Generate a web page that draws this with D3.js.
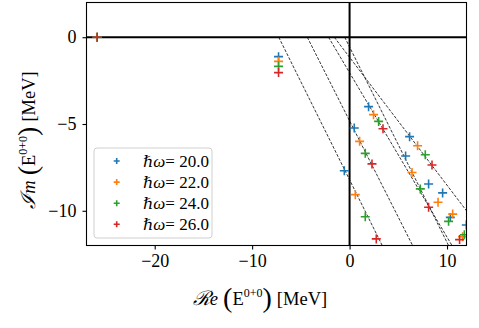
<!DOCTYPE html>
<html>
<head>
<meta charset="utf-8">
<script src="https://cdn.jsdelivr.net/npm/d3@7"></script>
<style>
body{margin:0;background:#fff}
text{font-family:"Liberation Serif","DejaVu Serif",serif;fill:#000}
</style>
</head>
<body>
<script>
// series labels and colours
var hw = ["20.0", "22.0", "24.0", "26.0"];
var colors = ["#1f77b4", "#ff7f0e", "#2ca02c", "#d62728"];

// eigenvalues (Re, Im) in MeV
var re20 = [-25.9, -7.29, -0.54, 0.48, 1.95, 5.75, 6.16, 8.11, 9.55, 10.34, 11.98];
var im20 = [0, -1.12, -7.69, -5.23, -4.0, -6.84, -5.73, -8.46, -8.97, -10.38, -10.82];
var re22 = [-25.9, -7.29, 0.59, 1.03, 2.46, 6.41, 6.98, 9.08, 10.58, 11.6];
var im22 = [0, -1.39, -9.07, -6.0, -4.46, -7.79, -6.25, -9.51, -10.19, -11.5];
var re24 = [-25.9, -7.29, 1.61, 1.61, 2.98, 7.26, 7.77, 10.16, 11.78];
var im24 = [0, -1.68, -10.34, -6.69, -4.85, -8.74, -6.77, -10.61, -11.38];
var re26 = [-25.9, -7.29, 2.74, 2.3, 3.43, 8.11, 8.46, 11.29];
var im26 = [0, -2.04, -11.62, -7.3, -5.27, -9.8, -7.36, -11.66];

// rotated continuum lines: start on the real axis, end point
var lineStart = [-7.27, -4.34, -2.16, -1.57, -0.5];
var lineEndRe = [3.35, 6.47, 10.51, 12.0, 10.16];
var lineEndIm = [-12, -12, -12, -10.0, -12];

var xTicks = [-20, -10, 0, 10];
var yTicks = [0, -5, -10];

var W = 479, H = 328;
var margin = {top: 2.5, right: 12.5, bottom: 82.5, left: 86.5};
var width = W - margin.left - margin.right,
	height = H - margin.top - margin.bottom;

var svg = d3.select("body").append("svg")
	.attr("width", W)
	.attr("height", H);

var x = d3.scaleLinear().domain([-27, 12]).range([0, width]);
var y = d3.scaleLinear().domain([-12, 2]).range([height, 0]);

var g = svg.append("g")
	.attr("transform", "translate(" + margin.left + "," + margin.top + ")");

g.append("clipPath").attr("id", "clip")
	.append("rect").attr("width", width).attr("height", height);

var plot = g.append("g").attr("clip-path", "url(#clip)");

// thick zero lines
plot.append("line")
	.attr("x1", 0).attr("x2", width)
	.attr("y1", y(0)).attr("y2", y(0))
	.attr("stroke", "#000").attr("stroke-width", 2);
plot.append("line")
	.attr("x1", x(0)).attr("x2", x(0))
	.attr("y1", 0).attr("y2", height)
	.attr("stroke", "#000").attr("stroke-width", 2);

// dashed lines
lineStart.forEach(function(s, i) {
	plot.append("line")
		.attr("x1", x(s)).attr("y1", y(0))
		.attr("x2", x(lineEndRe[i])).attr("y2", y(lineEndIm[i]))
		.attr("stroke", "#000")
		.attr("stroke-width", 0.8)
		.attr("stroke-dasharray", "3,1.5");
});

var series = [[re20, im20], [re22, im22], [re24, im24], [re26, im26]];

function plus(sel, size) {
	var h = size / 2;
	return sel.attr("d", "M" + (-h) + ",0H" + h + "M0," + (-h) + "V" + h);
}

series.forEach(function(s, k) {
	var pts = s[0].map(function(r, i) { return [r, s[1][i]]; });
	plot.selectAll(".p" + k)
		.data(pts)
		.enter()
		.append("path")
		.attr("class", "p" + k)
		.attr("transform", d => "translate(" + x(d[0]) + "," + y(d[1]) + ")")
		.attr("fill", "none")
		.attr("stroke", colors[k])
		.attr("stroke-width", 1.6)
		.call(plus, 9);
});

// frame
g.append("rect")
	.attr("width", width).attr("height", height)
	.attr("fill", "none").attr("stroke", "#000").attr("stroke-width", 1.1);

// axes
var xAxis = g.append("g")
	.attr("transform", "translate(0," + height + ")")
	.call(d3.axisBottom(x).tickValues(xTicks).tickSize(4).tickPadding(5)
		.tickFormat(d => d < 0 ? "\u2212" + Math.abs(d) : d));
var yAxis = g.append("g")
	.call(d3.axisLeft(y).tickValues(yTicks).tickSize(4).tickPadding(6)
		.tickFormat(d => d < 0 ? "\u2212" + Math.abs(d) : d));

[xAxis, yAxis].forEach(function(a) {
	a.select(".domain").remove();
	a.selectAll(".tick line").attr("stroke", "#000").attr("stroke-width", 1.1);
	a.selectAll(".tick text")
		.style("font-family", "Liberation Serif")
		.style("font-size", "18px")
		.attr("fill", "#000");
});

// axis labels
function mathLabel(t, letter, rest) {
	t.append("tspan").attr("font-size", "20px").attr("font-style", "italic").text(letter);
	t.append("tspan").attr("font-style", "italic").text(rest);
	t.append("tspan").attr("dx", 5).attr("font-size", "28px").attr("dy", 2).text("(");
	t.append("tspan").attr("dy", -2).text("E");
	t.append("tspan").attr("font-size", "12px").attr("dy", -8).text("0+0");
	t.append("tspan").attr("font-size", "28px").attr("dy", 10).text(")");
	t.append("tspan").attr("dy", -2).attr("dx", 5).text("[MeV]");
}

var xl = svg.append("text")
	.attr("x", 260).attr("y", 305)
	.attr("text-anchor", "middle")
	.style("font-size", "18.5px");
mathLabel(xl, "\u211B", "e");

var yl = svg.append("text")
	.attr("transform", "translate(35,140) rotate(-90)")
	.attr("text-anchor", "middle")
	.style("font-size", "18.5px");
mathLabel(yl, "\u2110", "m");

// legend
var leg = svg.append("g").attr("transform", "translate(94,148)");
leg.append("rect")
	.attr("width", 118).attr("height", 90)
	.attr("rx", 3)
	.attr("fill", "#fff").attr("fill-opacity", 0.8)
	.attr("stroke", "#d0d0d0").attr("stroke-width", 1);

hw.forEach(function(h, i) {
	var row = leg.append("g").attr("transform", "translate(0," + (13 + i * 21.1) + ")");
	row.append("path")
		.attr("transform", "translate(22.7,0)")
		.attr("fill", "none")
		.attr("stroke", colors[i])
		.attr("stroke-width", 1.6)
		.call(plus, 6);
	var t = row.append("text")
		.attr("x", 49).attr("y", 6)
		.style("font-size", "17px");
	t.append("tspan").style("font-family", "DejaVu Serif").attr("font-size", "16px").text("\u210F");
	t.append("tspan").attr("font-style", "italic").text("\u03C9");
	t.append("tspan").text("= " + h);
});
</script>
</body>
</html>
